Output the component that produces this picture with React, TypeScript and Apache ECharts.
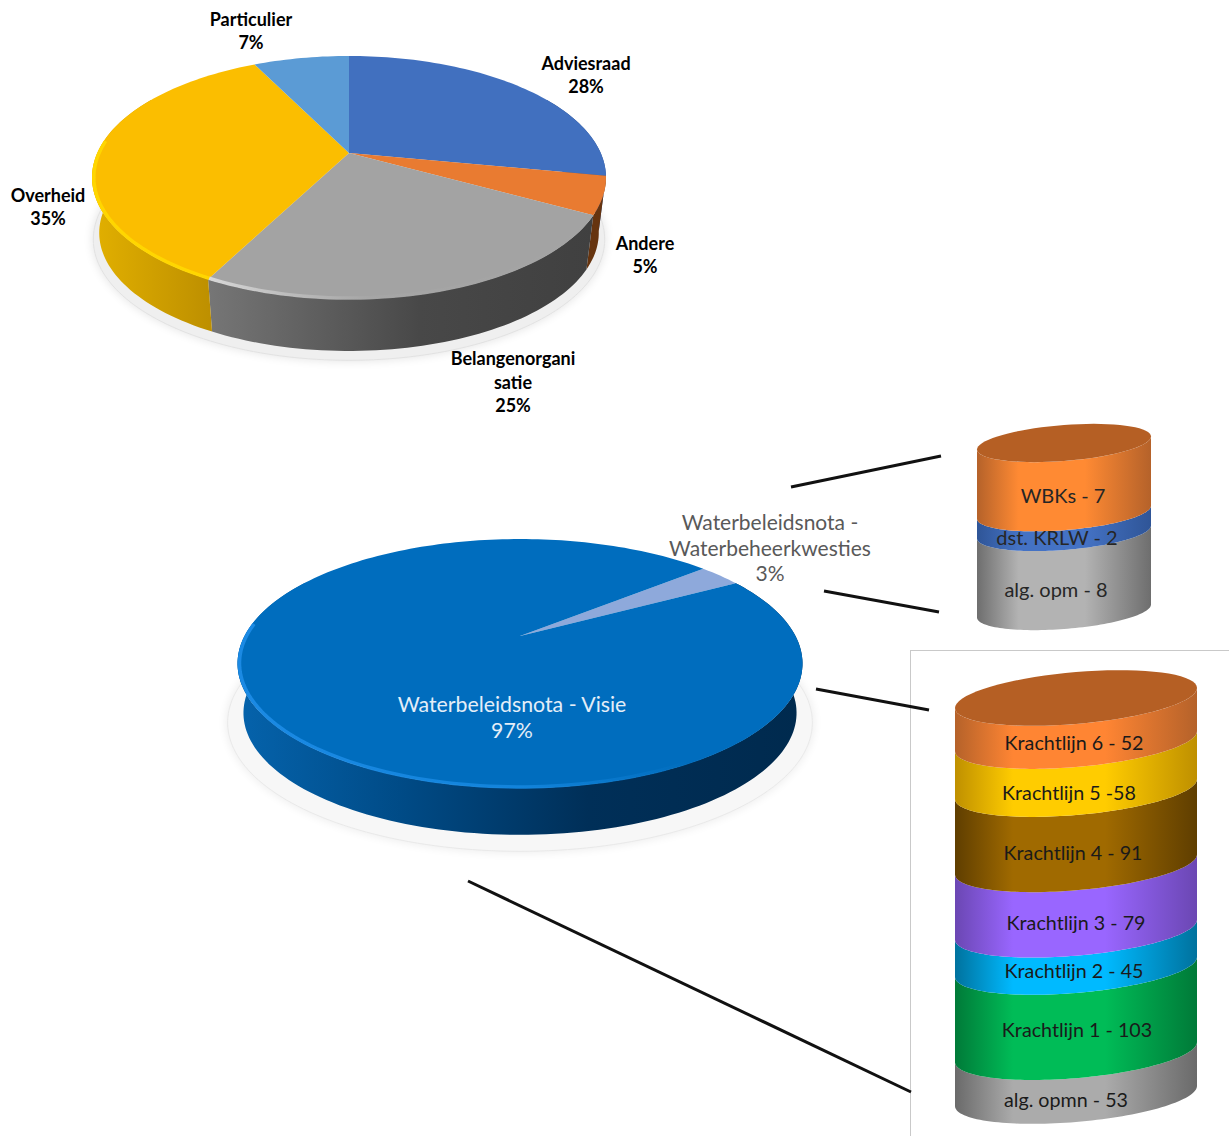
import React, { useEffect, useRef } from "react";
import * as echarts from "echarts";

// ---------- data ----------
const sourceNames = ["Adviesraad", "Andere", "Belangenorgani\nsatie", "Overheid", "Particulier"];
const sourceValues = [28, 5, 24.6, 35.1, 7.3];
const noteNames = ["Waterbeleidsnota -\nWaterbeheerkwesties", "Waterbeleidsnota - Visie"];
const noteValues = [3, 97];
const smallStackLabels = ["alg. opm - 8", "dst. KRLW - 2", "WBKs - 7"];
const smallStackValues = [8, 2, 7];
const bigStackLabels = [
  "alg. opmn - 53",
  "Krachtlijn 1 - 103",
  "Krachtlijn 2 - 45",
  "Krachtlijn 3 - 79",
  "Krachtlijn 4 - 91",
  "Krachtlijn 5 -58",
  "Krachtlijn 6 - 52",
];
const bigStackValues = [53, 103, 45, 79, 91, 58, 52];

// ---------- styles and layout ----------
const FONT = "Lato";
const sum = (a: number[]) => a.reduce((s, v) => s + v, 0);
const hgrad = (stops: [number, string][]) =>
  new echarts.graphic.LinearGradient(0, 0, 1, 0, stops.map(([offset, color]) => ({ offset, color })));
const band = (edge: string, main: string) =>
  hgrad([[0, edge], [0.24, main], [0.62, main], [1, edge]]);

const sourceStyle = {
  geo: { cx: 349, cy: 153, Rx: 251.7, Ry: 116.6, k: 0.2016, s: 0.972, dy: 56, start: 0 },
  halo: { s: 0.995, dy: 62, fill: "#efefef", blur: "#e2e2e2" },
  top: ["#4170BF", "#E97B31", "#A3A3A3", "#FBBE00", "#5B9BD5"],
  wall: [
    "#2F528F",
    "#66340F",
    hgrad([[0, "#767676"], [0.55, "#484848"], [1, "#404040"]]),
    hgrad([[0, "#E2B000"], [1, "#BD8F00"]]),
    "#41719C",
  ],
  rim: [
    null,
    null,
    hgrad([[0, "#dddddd"], [0.2, "#c0c0c0"], [0.42, "#a6a6a6"], [1, "#a3a3a3"]]),
    "#FFD800",
    null,
  ],
};
const noteStyle = {
  geo: { cx: 520, cy: 636, Rx: 275.5, Ry: 118.4, k: 0.221, s: 0.979, dy: 50, start: 49.5 },
  halo: { s: 1.035, dy: 58, fill: "#f7f7f7", blur: "#e9e9e9" },
  top: ["#8EA9DB", "#006DBE"],
  wall: ["#5F7FB5", hgrad([[0, "#0563AC"], [0.3, "#004A85"], [0.62, "#002F58"], [1, "#002A4E"]])],
  rim: [null, hgrad([[0, "#1E8DE8"], [0.5, "#1486DE"], [0.8, "#006DBE"], [1, "#006DBE"]])],
};

const smallBox = { left: 977, top: 443, width: 174, height: 168, ry: 18, slope: -0.075 };
const bigBox = { left: 955, top: 698, width: 242, height: 398, ry: 26, slope: -0.083 };
const capColor = "#B55F24";
const smallBands = [
  band("#6E6E6E", "#B3B3B3"),
  band("#2F5597", "#4472C4"),
  band("#B5622A", "#FF8A33"),
];
const bigBands = [
  band("#6A6A6A", "#ABABAB"),
  band("#007A38", "#00BC57"),
  band("#00729E", "#00BAFF"),
  band("#6B47B3", "#9966FF"),
  band("#5F3E00", "#A06A00"),
  band("#BF9000", "#FFCC00"),
  band("#B5622A", "#FF8533"),
];

const rad = (d: number) => (d * Math.PI) / 180;

function renderPie(style: any, total: number) {
  const g = style.geo;
  const project = (deg: number, s: number, dy: number) => {
    const c = Math.cos(rad(deg));
    const w = 1 + g.k * c;
    return [g.cx + (s * g.Rx * Math.sin(rad(deg))) / w, g.cy + (s * -g.Ry * c) / w + dy];
  };
  const arc = (a: number, b: number, s: number, dy: number) => {
    const n = Math.max(2, Math.ceil(Math.abs(b - a) / 1.5));
    const out: number[][] = [];
    for (let i = 0; i <= n; i++) out.push(project(a + ((b - a) * i) / n, s, dy));
    return out;
  };
  return (params: any, api: any) => {
    const i = params.dataIndex;
    const a = (api.value(1) / total) * 360 + g.start;
    const b = a + (api.value(0) / total) * 360;
    const children: any[] = [];
    if (i === 0) {
      children.push({
        type: "polygon",
        z2: 0,
        shape: { points: arc(0, 360, style.halo.s, style.halo.dy) },
        style: { fill: style.halo.fill, stroke: style.halo.blur, lineWidth: 1, shadowBlur: 10, shadowColor: style.halo.blur },
      });
    }
    // the wall is only drawn on the part of the rim that faces the viewer
    for (const [lo, hi] of [[60, 300], [420, 660]]) {
      const wa = Math.max(a, lo);
      const wb = Math.min(b, hi);
      if (wb > wa) {
        children.push({
          type: "polygon",
          z2: 1,
          shape: { points: [...arc(wa, wb, 1, 0), ...arc(wb, wa, g.s, g.dy)] },
          style: { fill: style.wall[i] },
        });
      }
    }
    children.push({
      type: "polygon",
      z2: 2,
      shape: { points: [[g.cx, g.cy], ...arc(a, b, 1, 0)] },
      style: { fill: style.top[i] },
    });
    const rimA = Math.max(a, 100);
    const rimB = Math.min(b, 276);
    if (style.rim[i] && rimB > rimA) {
      children.push({
        type: "polyline",
        z2: 3,
        shape: { points: arc(rimA, rimB, 0.993, 0) },
        style: { fill: null, stroke: style.rim[i], lineWidth: 3.5, opacity: 0.9 },
      });
    }
    return { type: "group", children };
  };
}

function renderStack(box: any, bands: any[], count: number) {
  return (params: any, api: any) => {
    const i = params.dataIndex;
    const lo = api.coord([0.5, api.value(1)]);
    const hi = api.coord([0.5, api.value(2)]);
    const cx = lo[0];
    const rx = api.coord([1, 0])[0] - cx;
    const front = (cy: number, a: number, b: number) => {
      const out: number[][] = [];
      for (let n = 0; n <= 72; n++) {
        const t = rad(a + ((b - a) * n) / 72);
        out.push([cx + rx * Math.cos(t), cy + box.slope * rx * Math.cos(t) + box.ry * Math.sin(t)]);
      }
      return out;
    };
    const children: any[] = [
      {
        type: "polygon",
        z2: i + 1,
        shape: { points: [...front(lo[1], 0, 180), ...front(hi[1], 180, 0)] },
        style: { fill: bands[i] },
      },
    ];
    if (i === count - 1) {
      children.push({
        type: "polygon",
        z2: i + 2,
        shape: { points: front(hi[1], 0, 360) },
        style: { fill: capColor },
      });
    }
    return { type: "group", children };
  };
}

const withOffsets = (vals: number[]) => {
  let acc = 0;
  return vals.map((v) => {
    const row = [v, acc, acc + v];
    acc += v;
    return row;
  });
};

const textEl = (text: string, x: number, y: number, size: number, fill: string, weight: any = "normal", lh = 0) => ({
  type: "text",
  z: 10,
  x,
  y,
  style: {
    text,
    fill,
    fontFamily: FONT,
    fontSize: size,
    fontWeight: weight,
    align: "center",
    verticalAlign: "middle",
    lineHeight: lh || size * 1.2,
  },
});
const lineEl = (x1: number, y1: number, x2: number, y2: number, stroke = "#111111", lineWidth = 3) => ({
  type: "line",
  z: 5,
  shape: { x1, y1, x2, y2 },
  style: { stroke, lineWidth },
});

const sourceLabelAt = [[586, 74.5], [645, 254.5], [513, 381.5], [48, 206.5], [251, 30.5]];
const smallLabelAt = [[1056, 589], [1057, 537], [1063, 495]];
const bigLabelAt = [[1066, 1099], [1077, 1029], [1074, 970], [1076, 922], [1073, 852], [1069, 792], [1074, 742]];

export default function App() {
  const ref = useRef<HTMLDivElement>(null);
  useEffect(() => {
    const chart = echarts.init(ref.current!, undefined, { renderer: "svg" });
    const sourceTotal = sum(sourceValues);
    const noteTotal = sum(noteValues);
    chart.setOption({
      animation: false,
      backgroundColor: "#ffffff",
      grid: [
        { left: smallBox.left, top: smallBox.top, width: smallBox.width, height: smallBox.height },
        { left: bigBox.left, top: bigBox.top, width: bigBox.width, height: bigBox.height },
      ],
      xAxis: [
        { type: "value", gridIndex: 0, min: 0, max: 1, show: false },
        { type: "value", gridIndex: 1, min: 0, max: 1, show: false },
      ],
      yAxis: [
        { type: "value", gridIndex: 0, min: 0, max: sum(smallStackValues), show: false },
        { type: "value", gridIndex: 1, min: 0, max: sum(bigStackValues), show: false },
      ],
      series: [
        {
          type: "custom",
          coordinateSystem: "none",
          clip: false,
          silent: true,
          data: withOffsets(sourceValues),
          renderItem: renderPie(sourceStyle, sourceTotal),
        },
        {
          type: "custom",
          coordinateSystem: "none",
          clip: false,
          silent: true,
          data: withOffsets(noteValues),
          renderItem: renderPie(noteStyle, noteTotal),
        },
        {
          type: "custom",
          xAxisIndex: 0,
          yAxisIndex: 0,
          clip: false,
          silent: true,
          data: withOffsets(smallStackValues),
          renderItem: renderStack(smallBox, smallBands, smallStackValues.length),
        },
        {
          type: "custom",
          xAxisIndex: 1,
          yAxisIndex: 1,
          clip: false,
          silent: true,
          data: withOffsets(bigStackValues),
          renderItem: renderStack(bigBox, bigBands, bigStackValues.length),
        },
      ],
      graphic: [
        lineEl(910.5, 650, 910.5, 1136, "#c9c9c9", 1),
        lineEl(910, 650.5, 1229, 650.5, "#c9c9c9", 1),
        lineEl(791, 487, 941, 456),
        lineEl(824, 591, 939, 612),
        lineEl(816, 689, 929, 710),
        lineEl(468, 881, 911, 1092),
        ...sourceNames.map((n, i) =>
          textEl(`${n}\n${Math.round(sourceValues[i])}%`, sourceLabelAt[i][0], sourceLabelAt[i][1], 18, "#000000", "bold", 23.4)
        ),
        textEl(`${noteNames[0]}\n${noteValues[0]}%`, 770, 547, 21, "#595959", "normal", 25.5),
        textEl(`${noteNames[1]}\n${noteValues[1]}%`, 512, 717, 21.3, "#E4EEF8", "normal", 25.5),
        ...smallStackLabels.map((t, i) => textEl(t, smallLabelAt[i][0], smallLabelAt[i][1], 20, "#262626")),
        ...bigStackLabels.map((t, i) => textEl(t, bigLabelAt[i][0], bigLabelAt[i][1], 19.7, "#1a1a1a")),
      ],
    });
    return () => chart.dispose();
  }, []);
  return <div ref={ref} style={{ position: "absolute", left: 0, top: 0, width: 1229, height: 1136 }} />;
}
